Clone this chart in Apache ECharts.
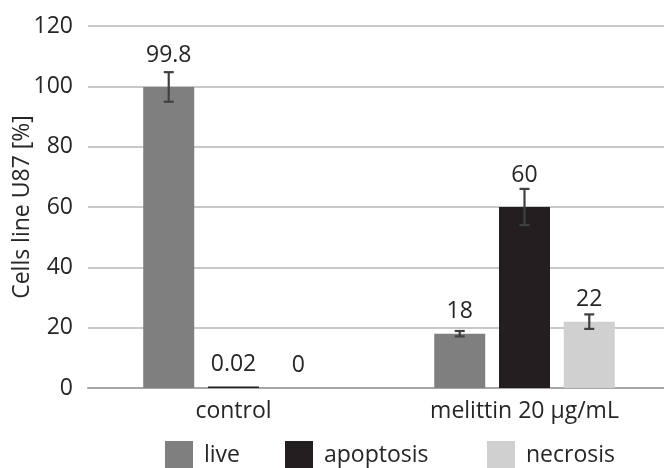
<!DOCTYPE html>
<html><head><meta charset="utf-8">
<script src="https://cdn.jsdelivr.net/npm/echarts@6/dist/echarts.min.js"></script>
<style>html,body{margin:0;padding:0;background:#fff}#c{width:664px;height:468px}</style>
</head><body><div id="c"></div>
<script>
// ---- data ----
const categories = ['control', 'melittin 20 µg/mL'];
const seriesNames = ['live', 'apoptosis', 'necrosis'];
const liveValues = [99.8, 18];
const apoptosisValues = [0.02, 60];
const necrosisValues = [0, 22];
const liveErrors = [4.9, 0.9];
const apoptosisErrors = [0, 6];
const necrosisErrors = [0, 2.4];
const liveLabels = ['99.8', '18'];
const apoptosisLabels = ['0.02', '60'];
const necrosisLabels = ['0', '22'];
const yMin = 0, yMax = 120, yStep = 20;

// ---- style ----
const FONT = 'Open Sans';
const TXT = '#262626';
const colors = ['#7f7f7f', '#231f20', '#d0d0d0'];
const BAR_W = 51;
const BAR_GAP = 0.27;
const BAR_STEP = BAR_W * (1 + BAR_GAP);
const labelDist = [[20, 11], [11, 20], [11, 11]];
const legendLeft = [165, 285, 487];

const valuesBySeries = [liveValues, apoptosisValues, necrosisValues];
const errorsBySeries = [liveErrors, apoptosisErrors, necrosisErrors];
const labelsBySeries = [liveLabels, apoptosisLabels, necrosisLabels];

const barSeries = seriesNames.map((name, si) => ({
  name: name,
  type: 'bar',
  barWidth: BAR_W,
  barGap: (BAR_GAP * 100) + '%',
  barMinHeight: si === 1 ? 1.5 : 0,
  itemStyle: { color: colors[si] },
  data: valuesBySeries[si].map((v, ci) => ({
    value: v,
    label: { distance: labelDist[si][ci] }
  })),
  label: {
    show: true, position: 'top',
    fontFamily: FONT, fontSize: 23, color: TXT,
    formatter: p => labelsBySeries[si][p.dataIndex]
  },
  z: 2
}));

const errData = [];
seriesNames.forEach((n, si) => {
  valuesBySeries[si].forEach((v, ci) => {
    errData.push([ci, v, errorsBySeries[si][ci], si]);
  });
});

function renderErr(params, api) {
  const ci = api.value(0), v = api.value(1), e = api.value(2), si = api.value(3);
  if (!e) return null;
  const off = (si - 1) * BAR_STEP;
  const t = api.coord([ci, v + e]);
  const b = api.coord([ci, v - e]);
  const x = t[0] + off;
  const st = { stroke: '#404040', lineWidth: 2.2 };
  return { type: 'group', children: [
    { type: 'line', shape: { x1: x, y1: t[1], x2: x, y2: b[1] }, style: st },
    { type: 'line', shape: { x1: x - 5, y1: t[1], x2: x + 5, y2: t[1] }, style: st },
    { type: 'line', shape: { x1: x - 5, y1: b[1], x2: x + 5, y2: b[1] }, style: st }
  ]};
}

const legends = seriesNames.map((n, i) => ({
  data: [n], left: legendLeft[i], top: 441, padding: 0,
  icon: 'rect', itemWidth: 28, itemHeight: 28,
  selectedMode: false,
  textStyle: { fontFamily: FONT, fontSize: 23, color: TXT, padding: [0, 0, 0, 6] }
}));

const option = {
  animation: false,
  backgroundColor: '#ffffff',
  grid: { left: 88, top: 26, width: 582, height: 362, containLabel: false, outerBoundsMode: 'none' },
  legend: legends,
  xAxis: {
    type: 'category', data: categories,
    axisTick: { show: false },
    axisLine: { show: true, lineStyle: { color: '#a6a6a6', width: 2 } },
    axisLabel: { fontFamily: FONT, fontSize: 23, color: TXT, margin: 12 },
    splitLine: { show: false }
  },
  yAxis: {
    type: 'value', min: yMin, max: yMax, interval: yStep,
    name: 'Cells line U87 [%]', nameLocation: 'middle', nameGap: 54, nameRotate: 90,
    nameMoveOverlap: false,
    nameTextStyle: { fontFamily: FONT, fontSize: 23, color: TXT },
    axisLine: { show: false }, axisTick: { show: false },
    axisLabel: { fontFamily: FONT, fontSize: 23, color: TXT, margin: 15 },
    splitLine: { show: true, lineStyle: { color: '#c8c8c8', width: 2 } }
  },
  series: barSeries.concat([{
    type: 'custom', name: 'err', renderItem: renderErr,
    data: errData, encode: { x: 0, y: 1 }, z: 5, silent: true
  }])
};
echarts.init(document.getElementById('c'), null, { renderer: 'canvas' }).setOption(option);
</script></body></html>
